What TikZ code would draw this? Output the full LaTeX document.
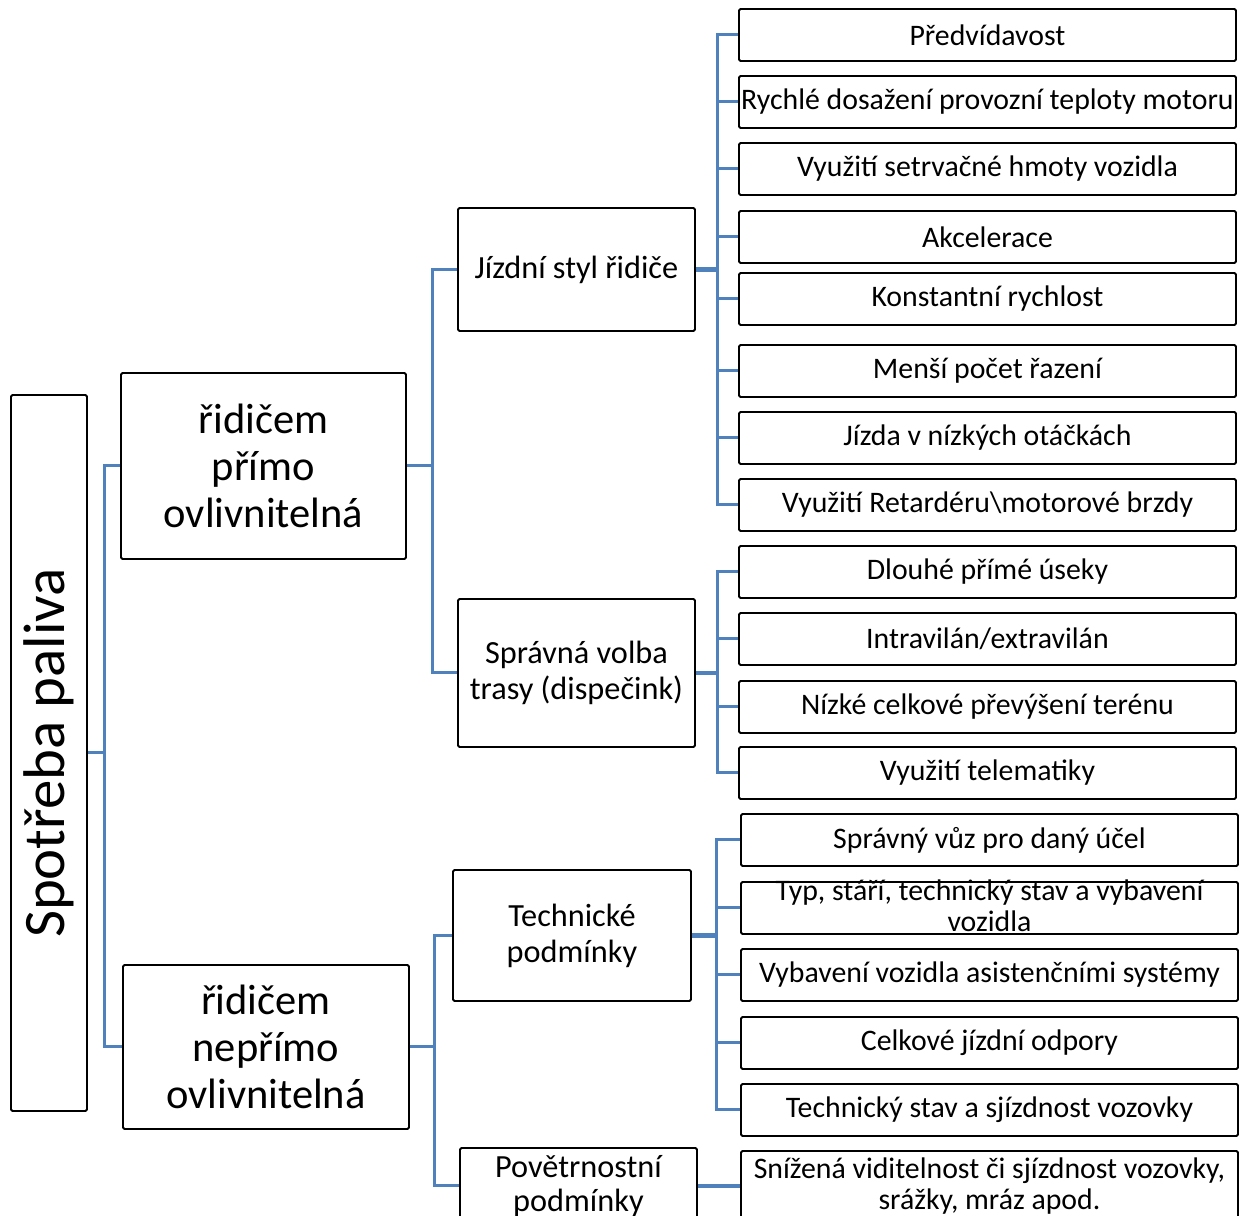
\documentclass[tikz,border=0pt]{standalone}
\usepackage{graphicx}
\usepackage{fontspec}
\setmainfont{Carlito}
\definecolor{linkblue}{RGB}{79,129,189}
\begin{document}
\begin{tikzpicture}[x=1pt,y=-1pt,
 box/.style={draw=black,line width=1.9pt,rounded corners=1.5pt,fill=white,inner sep=0pt,align=center,anchor=north west},
 leaf/.style={box,minimum width=497pt,minimum height=52pt,font=\fontsize{29.8}{31}\selectfont},
 mid/.style={box,minimum width=237pt,font=\fontsize{32.3}{36}\selectfont},
 big/.style={box,font=\fontsize{42.5}{47}\selectfont},
 conn/.style={draw=linkblue,line width=3pt},
 stub/.style={draw=linkblue,line width=4.5pt}]
\useasboundingbox (0,0) rectangle (1243,1216);
% root
\node[box,minimum width=76pt,minimum height=716pt,font=\fontsize{58.8}{64}\selectfont] (root) at (10,394) {\rotatebox{90}{Spotřeba paliva}};
% level 1
\node[big,minimum width=285pt,minimum height=186pt] (A) at (120,372) {řidičem\\přímo\\ovlivnitelná};
\node[big,minimum width=286pt,minimum height=164pt] (B) at (122,964) {řidičem\\nepřímo\\ovlivnitelná};
% level 2
\node[mid,minimum height=123pt] (C) at (457,207) {Jízdní styl řidiče};
\node[mid,minimum height=148pt] (D) at (457,598) {Správná volba\\trasy (dispečink)};
\node[mid,minimum width=238pt,minimum height=131pt] (E) at (452,869) {Technické\\podmínky};
\node[mid,minimum height=76pt] (F) at (459,1147) {Povětrnostní\\[-2pt]podmínky};
% leaves
\node[leaf] (l1) at (738,8) {Předvídavost};
\node[leaf] (l2) at (738,75) {Rychlé dosažení provozní teploty motoru};
\node[leaf] (l3) at (738,142) {Využití setrvačné hmoty vozidla};
\node[leaf] (l4) at (738,210) {Akcelerace};
\node[leaf] (l5) at (738,272) {Konstantní rychlost};
\node[leaf] (l6) at (738,344) {Menší počet řazení};
\node[leaf] (l7) at (738,411) {Jízda v nízkých otáčkách};
\node[leaf] (l8) at (738,478) {Využití Retardéru\textbackslash motorové brzdy};
\node[leaf] (l9) at (738,545) {Dlouhé přímé úseky};
\node[leaf] (l10) at (738,612) {Intravilán/extravilán};
\node[leaf] (l11) at (738,680) {Nízké celkové převýšení terénu};
\node[leaf] (l12) at (738,746) {Využití telematiky};
\node[leaf] (l13) at (740,813) {Správný vůz pro daný účel};
\node[leaf] (l14) at (740,881) {\smash{\raisebox{-8pt}{\begin{tabular}{@{}c@{}}Typ, stáří, technický stav a vybavení\\[0pt]vozidla\end{tabular}}}};
\node[leaf] (l15) at (740,948) {Vybavení vozidla asistenčními systémy};
\node[leaf] (l16) at (740,1016) {Celkové jízdní odpory};
\node[leaf] (l17) at (740,1083) {Technický stav a sjízdnost vozovky};
\node[leaf,minimum height=70pt] (l18) at (740,1150) {Snížená viditelnost či sjízdnost vozovky,\\srážky, mráz apod.};
% connectors
\foreach \t in {A,B} \draw[conn] (root.east) -- ++(17,0) |- (\t.west);
\foreach \t in {C,D} \draw[conn] (A.east) -- ++(26,0) |- (\t.west);
\foreach \t in {E,F} \draw[conn] (B.east) -- ++(25,0) |- (\t.west);
\foreach \t in {l1,l2,l3,l4,l5,l6,l7,l8} \draw[conn] (C.east) -- ++(22,0) |- (\t.west);
\foreach \t in {l9,l10,l11,l12} \draw[conn] (D.east) -- ++(22,0) |- (\t.west);
\foreach \t in {l13,l14,l15,l16,l17} \draw[conn] (E.east) -- ++(25,0) |- (\t.west);
\draw[stub] (C.east) -- ++(22,0);
\draw[stub] (D.east) -- ++(22,0);
\draw[stub] (E.east) -- ++(25,0);
\draw[stub] (F.east) -- (l18.west);
\end{tikzpicture}
\end{document}
